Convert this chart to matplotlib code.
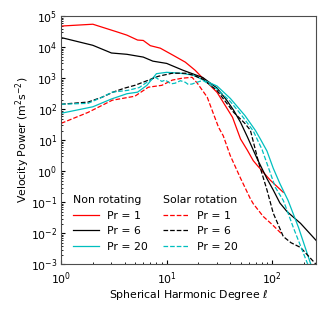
import numpy as np
import matplotlib
matplotlib.use("Agg")
import matplotlib.pyplot as plt
from matplotlib.ticker import LogLocator, NullFormatter

# Non rotating runs
nr1_l = [1, 2, 3.4, 4.2, 5.3, 6, 7, 8.7, 11.5, 15, 18.6, 22, 30, 42, 50, 58, 66, 72, 96, 127]
nr1_p = [4.8e4, 5.5e4, 3.1e4, 2.45e4, 1.7e4, 1.65e4, 1.12e4, 9.3e3, 5.5e3, 3.3e3, 1.8e3, 1.0e3,
         3.5e2, 55, 11, 4.8, 2.2, 1.55, 0.51, 0.21]

nr6_l = [1, 2, 3, 4.2, 6, 7.4, 10, 14.3, 22, 30, 37, 43, 50, 58, 72, 89, 102, 118, 138, 185, 260]
nr6_p = [2.05e4, 1.15e4, 6.5e3, 5.9e3, 4.8e3, 3.55e3, 3.0e3, 1.8e3, 1.05e3, 4.8e2, 1.95e2, 93,
         38, 13, 2.5, 0.58, 0.25, 0.095, 0.05, 0.021, 0.0059]

nr20_l = [1, 2, 3, 4.2, 5.3, 6.5, 8, 10, 13.4, 17.8, 22, 30, 40, 55, 69, 77, 89, 102, 118, 141, 177, 230, 245]
nr20_p = [74, 120, 214, 316, 355, 590, 1.4e3, 1.55e3, 1.45e3, 1.26e3, 890, 560, 224, 63, 21,
          11, 4.5, 1.26, 0.4, 0.115, 0.0155, 0.00107, 0.00065]

# Solar rotation runs
sr1_l = [1, 1.8, 3.05, 5, 6.7, 9, 11.3, 14, 17.4, 19.5, 24.2, 27.6, 31, 34.3, 40, 50, 62, 66, 82, 100, 123]
sr1_p = [35, 79, 195, 263, 513, 590, 870, 1.0e3, 1.07e3, 690, 245, 74, 26, 14, 3.2, 0.6,
         0.13, 0.09, 0.035, 0.019, 0.0095]

sr6_l = [1, 1.8, 2.45, 3.1, 4, 5, 6.3, 8.3, 11.3, 15, 17.8, 22, 30, 43, 55, 62, 74, 89, 102, 127, 150, 185, 255, 262]
sr6_p = [145, 170, 245, 355, 480, 590, 795, 1.15e3, 1.45e3, 1.45e3, 1.26e3, 930, 400, 80, 35,
         21, 2.0, 0.25, 0.045, 0.0079, 0.005, 0.0035, 0.00107, 0.00095]

sr20_l = [1, 1.8, 2.45, 3.05, 4.3, 5.5, 6.3, 7.8, 9, 9.7, 11, 12, 13.5, 15, 16, 17.4, 19, 22, 30, 40, 50,
          66, 80, 107, 127, 138, 158, 215, 222]
sr20_p = [145, 155, 245, 355, 407, 500, 690, 1.07e3, 790, 870, 660, 690, 830, 740, 630, 650, 725,
          850, 450, 178, 71, 20, 5.0, 0.3, 0.115, 0.055, 0.0155, 0.00107, 0.00085]

plt.rcParams['font.size'] = 7.8

fig, ax = plt.subplots(figsize=(3.3, 3.11), dpi=100)
fig.subplots_adjust(left=0.185, right=0.958, top=0.948, bottom=0.15)

lw = 0.9
h1, = ax.plot(nr1_l, nr1_p, color='red', lw=lw, label='Pr = 1')
h2, = ax.plot(nr6_l, nr6_p, color='k', lw=lw, label='Pr = 6')
h3, = ax.plot(nr20_l, nr20_p, color='c', lw=lw, label='Pr = 20')
d1, = ax.plot(sr1_l, sr1_p, color='red', lw=lw, ls='--', label='Pr = 1')
d2, = ax.plot(sr6_l, sr6_p, color='k', lw=lw, ls='--', label='Pr = 6')
d3, = ax.plot(sr20_l, sr20_p, color='c', lw=lw, ls='--', label='Pr = 20')

ax.set_xscale('log')
ax.set_yscale('log')
ax.set_xlim(1, 260)
ax.set_ylim(1e-3, 1e5)
ax.yaxis.set_major_locator(LogLocator(base=10, numticks=20))
ax.yaxis.set_minor_locator(LogLocator(base=10, subs=np.arange(2, 10), numticks=100))
ax.yaxis.set_minor_formatter(NullFormatter())
ax.tick_params(which='both', direction='in', labelsize=7.8)
ax.tick_params(axis='y', which='both', pad=2.5)
ax.tick_params(axis='x', which='both', pad=4)
ax.tick_params(which='major', length=3)
ax.tick_params(which='minor', length=1.5)
for s in ax.spines.values():
    s.set_color('0.3')

ax.set_xlabel(r'Spherical Harmonic Degree $\ell$', labelpad=1)
ax.set_ylabel(r'Velocity Power (m$^2$s$^{-2}$)', labelpad=-1)

leg_kw = dict(frameon=False, handlelength=2.4, handletextpad=0.75, labelspacing=0.5,
              borderaxespad=0.2, title_fontsize=7.8)
leg1 = ax.legend(handles=[h1, h2, h3], title='Non rotating', loc='lower left',
                 bbox_to_anchor=(0.02, 0.025), **leg_kw)
leg1._legend_box.align = 'left'
ax.add_artist(leg1)
leg2 = ax.legend(handles=[d1, d2, d3], title='Solar rotation', loc='lower left',
                 bbox_to_anchor=(0.375, 0.025), **leg_kw)
leg2._legend_box.align = 'left'

fig.savefig('out.png')
